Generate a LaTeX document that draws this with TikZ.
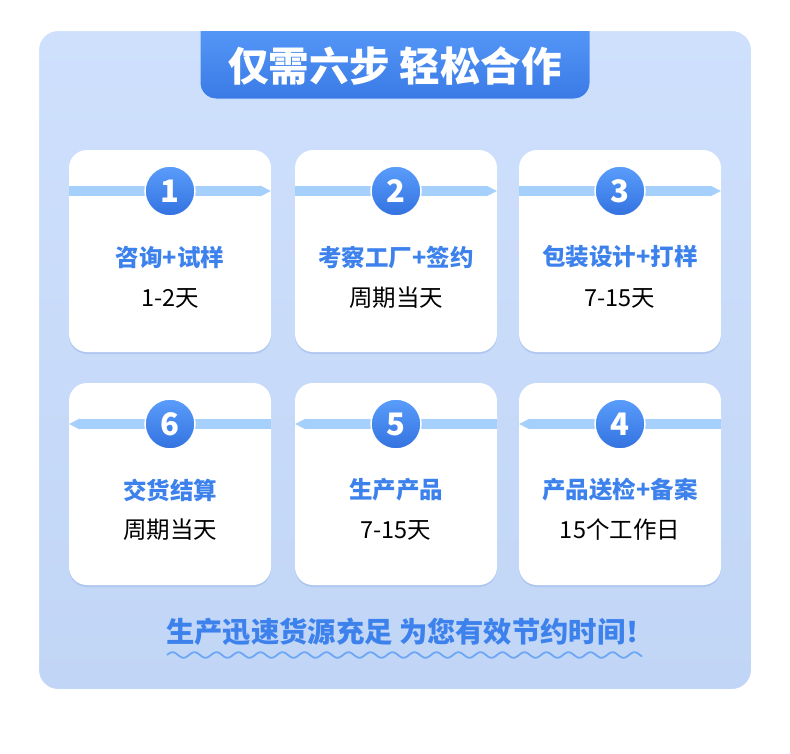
\documentclass[tikz,border=0pt]{standalone}
\usepackage{fontspec}
\newfontfamily\cjk{Noto Sans CJK SC}
\usetikzlibrary{arrows.meta,shadows}

\definecolor{panelTop}{HTML}{CEE0FC}
\definecolor{panelBot}{HTML}{C1D5F6}
\definecolor{tabTop}{HTML}{5EA1FD}
\definecolor{tabBot}{HTML}{3A7AE6}
\definecolor{numTop}{HTML}{5A9DFB}
\definecolor{numBot}{HTML}{3372E0}
\definecolor{bandBlue}{HTML}{A6D0FC}
\definecolor{txtBlue}{HTML}{3D82EC}
\definecolor{shadowBlue}{HTML}{A7C1EE}
\definecolor{waveBlue}{HTML}{6FA7F6}

\tikzset{
  card/.style={fill=white, rounded corners=18pt, minimum width=202pt, minimum height=202pt,
    drop shadow={shadow xshift=0pt, shadow yshift=-2pt, fill=shadowBlue, opacity=.7}},
  band/.style={draw=bandBlue, line width=10pt},
  tipR/.style={-{Triangle[length=11pt,width=10pt]}},
  num/.style={circle, minimum size=50pt, inner sep=0pt, top color=numTop, bottom color=numBot,
    draw=white, line width=1.5pt, text=white, font=\cjk\bfseries\fontsize{31}{31}\selectfont},
  stitle/.style={text=txtBlue, font=\cjk\bfseries\fontsize{23.5}{27}\selectfont},
  stime/.style={text=black, font=\cjk\fontsize{23.5}{27}\selectfont},
}

\begin{document}
\begin{tikzpicture}[x=1pt, y=-1pt]
	\useasboundingbox (0,0) rectangle (790,753);
	% fond du panneau
	\fill[white] (0,0) rectangle (790,753);
	\path[rounded corners=20pt, top color=panelTop, bottom color=panelBot, draw=white, line width=2pt]
		(38,30) rectangle (752,690);
	% onglet du titre
	\begin{scope}
		\clip (190,31) rectangle (600,110);
		\path[rounded corners=16pt, top color=tabTop, bottom color=tabBot, draw=white!70!tabTop, line width=1pt]
			(200,4) rectangle (590,99);
	\end{scope}
	\node[text=white, font=\cjk\bfseries\fontsize{40.5}{42}\selectfont] (title) at (395,66) {仅需六步 轻松合作};
	% cartes
	\node[card] (card1) at (170,251) {};
	\node[card] (card2) at (396,251) {};
	\node[card] (card3) at (620,251) {};
	\node[card] (card4) at (620,484) {};
	\node[card] (card5) at (396,484) {};
	\node[card] (card6) at (170,484) {};
	% numeros
	\coordinate (row1) at (0,191);
	\coordinate (row2) at (0,424);
	\draw[band, tipR] (card1.west |- row1) -- (card1.east |- row1);
	\draw[band, tipR] (card2.west |- row1) -- (card2.east |- row1);
	\draw[band, tipR] (card3.west |- row1) -- (card3.east |- row1);
	\draw[band, tipR] (card4.east |- row2) -- (card4.west |- row2);
	\draw[band, tipR] (card5.east |- row2) -- (card5.west |- row2);
	\draw[band, tipR] (card6.east |- row2) -- (card6.west |- row2);
	\node[num] (num1) at (card1 |- row1) {1};
	\node[num] (num2) at (card2 |- row1) {2};
	\node[num] (num3) at (card3 |- row1) {3};
	\node[num] (num4) at (card4 |- row2) {4};
	\node[num] (num5) at (card5 |- row2) {5};
	\node[num] (num6) at (card6 |- row2) {6};
	% textes des etapes
	\node[stitle] (step1) at (170,257) {咨询+试样};
	\node[stime] (time1) at (170,298) {1-2天};
	\node[stitle] (step2) at (396,257) {考察工厂+签约};
	\node[stime] (time2) at (396,298) {周期当天};
	\node[stitle] (step3) at (620,257) {包装设计+打样};
	\node[stime] (time3) at (620,298) {7-15天};
	\node[stitle] (step4) at (620,490) {产品送检+备案};
	\node[stime] (time4) at (620,530) {15个工作日};
	\node[stitle] (step5) at (396,490) {生产产品};
	\node[stime] (time5) at (396,530) {7-15天};
	\node[stitle] (step6) at (170,490) {交货结算};
	\node[stime] (time6) at (170,530) {周期当天};
	% slogan et vague
	\node[text=txtBlue, font=\cjk\bfseries\fontsize{28.3}{31}\selectfont] (slogan) at (410,632) {生产迅速货源充足 为您有效节约时间！};
	\draw[waveBlue, line width=1.8pt] plot[domain=0:475, samples=300, smooth] ({167+\x}, {655-2.8*sin(16.3636*\x)});
\end{tikzpicture}
\end{document}
